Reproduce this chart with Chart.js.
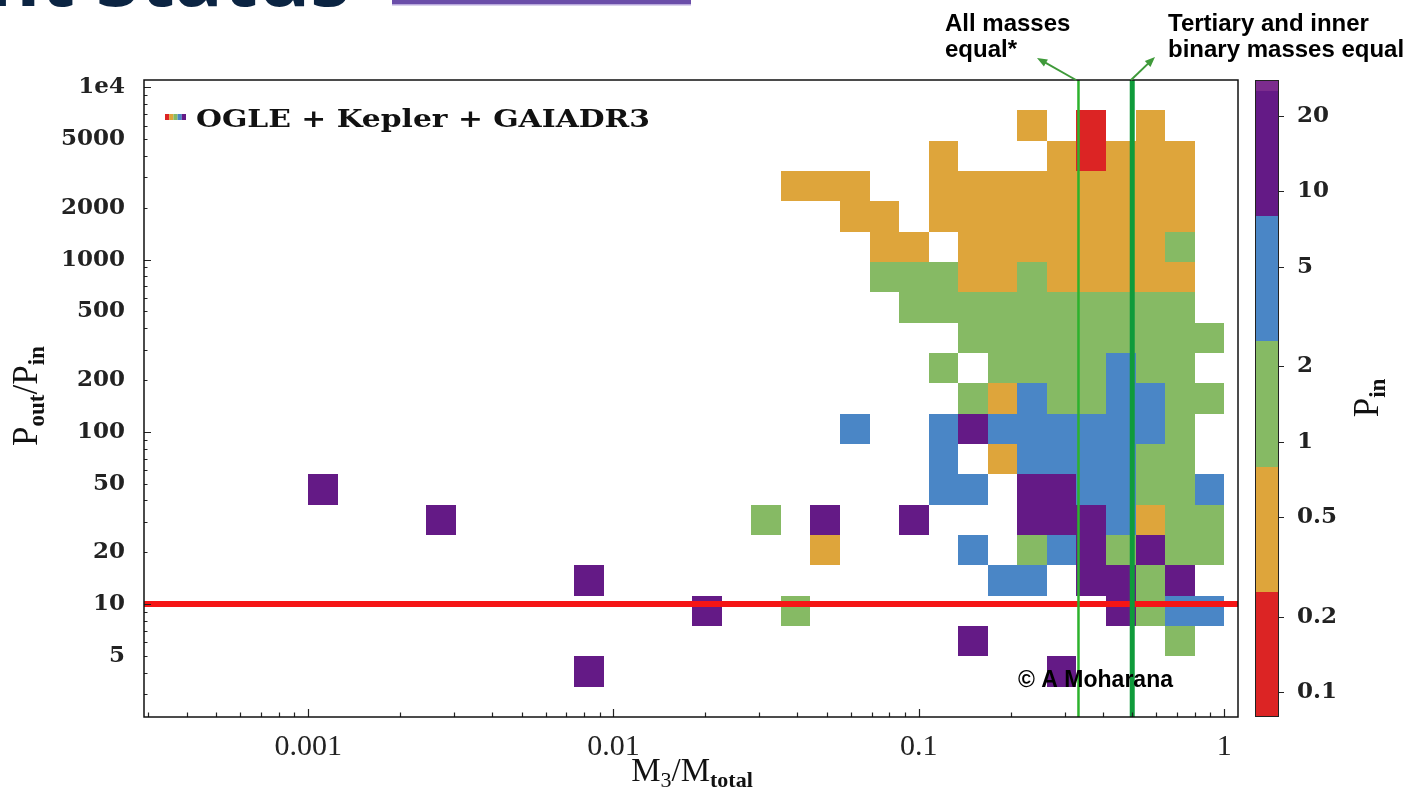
<!DOCTYPE html>
<html>
<head>
<meta charset="utf-8">
<title>Pout/Pin vs M3/Mtotal</title>
<script src="https://cdn.jsdelivr.net/npm/chart.js@4.4.1/dist/chart.umd.min.js"></script>
<style>
    html, body { margin: 0; padding: 0; background: #fff; }
    #box { position: relative; width: 1413px; height: 801px; }
</style>
</head>
<body>
<div id="box"><canvas id="myChart" width="1413" height="801"></canvas></div>
<script>
let xTicks = [0.001, 0.01, 0.1, 1];
let xTickLabels = ['0.001', '0.01', '0.1', '1'];
let yTicks = [5, 10, 20, 50, 100, 200, 500, 1000, 2000, 5000, 10000];
let yTickLabels = ['5', '10', '20', '50', '100', '200', '500', '1000', '2000', '5000', '1e4'];
let cbTicks = [0.1, 0.2, 0.5, 1, 2, 5, 10, 20];
let cbTickLabels = ['0.1', '0.2', '0.5', '1', '2', '5', '10', '20'];
let cbBounds = [0.0794, 0.251, 0.794, 2.51, 7.94, 25.1, 27.8];
let cbColors = ['#dc2424', '#dea53b', '#86ba64', '#4a86c6', '#641a86', '#7c2c8e'];

let xRange = [0.00029, 1.11];
let yRange = [2.21, 11030];
let xBinLo = 0.001, xBinHi = 1, xBinCount = 31;
let yBinLo = 2.21, yBinRatio = 1.5, yBinCount = 21;

// P_in of each cell, one letter per cell
let pinLevel = { r: 0.16, o: 0.45, g: 1.4, b: 4.5, p: 14 };
// rows from the top (Pout/Pin ~ 1e4) down, columns from M3/Mtot = 0.001 to 1
let cellRows = [
    '...............................',
    '........................o.r.o..',
    '.....................o...orooo.',
    '................ooo..ooooooooo.',
    '..................oo.ooooooooo.',
    '...................oo.ooooooog.',
    '...................gggoogooooo.',
    '....................gggggggggg.',
    '......................ggggggggg',
    '.....................g.ggggbgg.',
    '......................gobggbbgg',
    '..................b..bpbbbbbbg.',
    '.....................b.obbbbgg.',
    'p....................bb.ppbbggb',
    '....p..........g.p..p...pppbogg',
    '.................o....b.gbpgpgg',
    '.........p.............bb.ppgp.',
    '.............p..g..........pgbb',
    '......................p......g.',
    '.........p...............p.....',
    '...............................',
];

let hLines = [10];
let vLines = [1 / 3, 0.5];

let xEdges = [];
for (let i = 0; i <= xBinCount; i++) {
    xEdges.push(xBinLo * Math.pow(xBinHi / xBinLo, i / xBinCount));
}
let yEdges = [];
for (let j = 0; j <= yBinCount; j++) {
    yEdges.push(yBinLo * Math.pow(yBinRatio, j));
}

const colorFor = (v) => {
    for (let i = 0; i < cbColors.length; i++) {
        if (v >= cbBounds[i] && v < cbBounds[i + 1]) return cbColors[i];
    }
    return cbColors[cbColors.length - 1];
}

const drawRich = (ctx, parts, x, y) => {
    let w = 0;
    parts.forEach(p => { ctx.font = p[1]; w += ctx.measureText(p[0]).width; });
    let cx = x - w / 2;
    ctx.textAlign = 'left';
    ctx.textBaseline = 'alphabetic';
    parts.forEach(p => {
        ctx.font = p[1];
        ctx.fillText(p[0], cx, y + p[2]);
        cx += ctx.measureText(p[0]).width;
    });
}

const arrow = (ctx, x0, y0, x1, y1) => {
    let a = Math.atan2(y1 - y0, x1 - x0);
    ctx.beginPath();
    ctx.moveTo(x0, y0);
    ctx.lineTo(x1 - 6 * Math.cos(a), y1 - 6 * Math.sin(a));
    ctx.stroke();
    ctx.beginPath();
    ctx.moveTo(x1, y1);
    ctx.lineTo(x1 - 11 * Math.cos(a - 0.38), y1 - 11 * Math.sin(a - 0.38));
    ctx.lineTo(x1 - 11 * Math.cos(a + 0.38), y1 - 11 * Math.sin(a + 0.38));
    ctx.closePath();
    ctx.fill();
}

const heatmap = {
    id: 'heatmap',
    beforeDatasetsDraw(chart) {
        let { ctx, chartArea: a, scales: { x, y } } = chart;
        ctx.save();
        ctx.beginPath();
        ctx.rect(a.left, a.top, a.right - a.left, a.bottom - a.top);
        ctx.clip();
        for (let r = 0; r < cellRows.length; r++) {
            let row = cellRows[r];
            let j = yBinCount - 1 - r;
            for (let k = 0; k < row.length; k++) {
                let v = pinLevel[row[k]];
                if (v === undefined) continue;
                let x0 = Math.round(x.getPixelForValue(xEdges[k]));
                let x1 = Math.round(x.getPixelForValue(xEdges[k + 1]));
                let yb = Math.round(y.getPixelForValue(yEdges[j]));
                let yt = Math.round(y.getPixelForValue(yEdges[j + 1]));
                ctx.fillStyle = colorFor(v);
                ctx.fillRect(x0, yt, x1 - x0, yb - yt);
            }
        }
        ctx.restore();
    }
}

const frame = {
    id: 'frame',
    afterDatasetsDraw(chart) {
        let { ctx, chartArea: a, scales: { x, y, cb } } = chart;
        ctx.save();
        ctx.strokeStyle = '#222';
        ctx.lineWidth = 1.2;
        ctx.beginPath();
        for (let k = -4; k <= 0; k++) {
            for (let m = 1; m <= 9; m++) {
                let v = m * Math.pow(10, k);
                if (v < xRange[0] || v > xRange[1]) continue;
                let px = Math.round(x.getPixelForValue(v)) + 0.5;
                ctx.moveTo(px, a.bottom);
                ctx.lineTo(px, a.bottom - (m === 1 ? 8 : 4.5));
            }
        }
        for (let k = 0; k <= 4; k++) {
            for (let m = 1; m <= 9; m++) {
                let v = m * Math.pow(10, k);
                if (v < yRange[0] || v > yRange[1]) continue;
                let py = Math.round(y.getPixelForValue(v)) + 0.5;
                ctx.moveTo(a.left, py);
                ctx.lineTo(a.left + (m === 1 ? 7 : 3.5), py);
            }
        }
        ctx.stroke();
        ctx.lineWidth = 1.5;
        ctx.strokeStyle = '#111';
        ctx.strokeRect(a.left, a.top, a.right - a.left, a.bottom - a.top);

        // colour bar
        let cx0 = 1255, cx1 = 1279;
        for (let i = 0; i < cbColors.length; i++) {
            let yTop = Math.round(cb.getPixelForValue(cbBounds[i + 1]));
            let yBot = Math.round(cb.getPixelForValue(cbBounds[i]));
            ctx.fillStyle = cbColors[i];
            ctx.fillRect(cx0, yTop, cx1 - cx0, yBot - yTop);
        }
        ctx.lineWidth = 1;
        ctx.strokeStyle = '#222';
        ctx.strokeRect(cx0 + 0.5, cb.top + 0.5, cx1 - cx0 - 1, cb.bottom - cb.top - 1);
        ctx.beginPath();
        cbTicks.forEach(v => {
            let py = Math.round(cb.getPixelForValue(v)) + 0.5;
            ctx.moveTo(cx1, py);
            ctx.lineTo(cx1 + 5, py);
        });
        ctx.stroke();
        ctx.restore();
    },
    afterDraw(chart) {
        let ctx = chart.ctx;
        ctx.save();
        ctx.fillStyle = '#111';

        // axis titles
        drawRich(ctx, [
            ['M', '33px "Liberation Serif"', 0],
            ['3', '22px "Liberation Serif"', 6],
            ['/M', '33px "Liberation Serif"', 0],
            ['total', 'bold 22px "Liberation Serif"', 6],
        ], 692, 781);

        ctx.save();
        ctx.translate(25, 396);
        ctx.rotate(-Math.PI / 2);
        drawRich(ctx, [
            ['P', '35px "Liberation Serif"', 0],
            ['out', 'bold 23px "Liberation Serif"', 7],
            ['/P', '35px "Liberation Serif"', 0],
            ['in', 'bold 23px "Liberation Serif"', 7],
        ], 0, 12);
        ctx.restore();

        ctx.save();
        ctx.translate(1366, 398);
        ctx.rotate(-Math.PI / 2);
        drawRich(ctx, [
            ['P', '35px "Liberation Serif"', 0],
            ['in', 'bold 23px "Liberation Serif"', 7],
        ], 0, 12);
        ctx.restore();

        // legend
        let stripes = ['#dc2424', '#dea53b', '#86ba64', '#4a86c6', '#641a86'];
        stripes.forEach((c, i) => {
            ctx.fillStyle = c;
            ctx.fillRect(165 + i * 4.2, 114, 4.2, 6);
        });
        ctx.fillStyle = '#111';
        ctx.font = 'bold 25px "DejaVu Serif"';
        let legText = 'OGLE + Kepler + GAIADR3';
        let lw = ctx.measureText(legText).width;
        ctx.save();
        ctx.translate(196, 127);
        ctx.scale(454 / lw, 1);
        ctx.textAlign = 'left';
        ctx.fillText(legText, 0, 0);
        ctx.restore();

        // copyright
        ctx.font = 'bold 23px "Liberation Sans"';
        ctx.textAlign = 'left';
        ctx.fillStyle = '#000';
        ctx.fillText('\u00a9 A Moharana', 1018, 687);

        // notes on the two vertical lines
        ctx.font = 'bold 24px "Liberation Sans"';
        ctx.fillText('All masses', 945, 31);
        ctx.fillText('equal*', 945, 57);
        ctx.fillText('Tertiary and inner', 1168, 31);
        ctx.fillText('binary masses equal', 1168, 57);
        ctx.strokeStyle = '#3f9a3a';
        ctx.fillStyle = '#3f9a3a';
        ctx.lineWidth = 2;
        arrow(ctx, 1076, 80, 1037, 58);
        arrow(ctx, 1131, 80, 1155, 57);

        // slide header remains
        ctx.fillStyle = '#0b2442';
        ctx.font = 'bold 80px "Open Sans"';
        ctx.textAlign = 'right';
        ctx.fillText('Current Status', 350, 6);
        ctx.fillStyle = '#6b4ea9';
        ctx.fillRect(392, 0, 299, 4);
        ctx.fillStyle = '#b8a8dc';
        ctx.fillRect(392, 4, 299, 1.5);
        ctx.restore();
    }
}

let lineSets = [];
vLines.forEach((v, i) => {
    lineSets.push({
        label: i === 0 ? 'All masses equal' : 'Tertiary and inner binary masses equal',
        data: [{ x: v, y: yRange[0] }, { x: v, y: yRange[1] }],
        showLine: true,
        borderColor: i === 0 ? '#2db22d' : '#0f9b3b',
        borderWidth: i === 0 ? 2.5 : 5,
        pointRadius: 0,
    });
});
hLines.forEach(v => {
    lineSets.push({
        label: 'Pout/Pin = ' + v,
        data: [{ x: xRange[0], y: v }, { x: xRange[1], y: v }],
        showLine: true,
        borderColor: '#f51515',
        borderWidth: 6,
        pointRadius: 0,
    });
});

let ctx = document.getElementById('myChart').getContext('2d');
let myChart = new Chart(ctx, {
    type: 'scatter',
    data: { datasets: lineSets },
    options: {
        responsive: false,
        animation: false,
        devicePixelRatio: 1,
        layout: { padding: { top: 80, left: 0, right: 0, bottom: 0 } },
        plugins: { legend: { display: false }, tooltip: { enabled: false } },
        scales: {
            x: {
                type: 'logarithmic',
                min: xRange[0],
                max: xRange[1],
                grid: { display: false, drawTicks: false },
                border: { display: false },
                afterBuildTicks: (s) => { s.ticks = xTicks.map(v => ({ value: v })); },
                afterFit: (s) => { s.height = 84; },
                ticks: {
                    autoSkip: false,
                    maxRotation: 0,
                    padding: 12,
                    color: '#222',
                    font: { family: 'Liberation Serif', size: 30 },
                    callback: (v, i) => xTickLabels[i],
                },
            },
            y: {
                type: 'logarithmic',
                position: 'left',
                min: yRange[0],
                max: yRange[1],
                grid: { display: false, drawTicks: false },
                border: { display: false },
                afterBuildTicks: (s) => { s.ticks = yTicks.map(v => ({ value: v })); },
                afterFit: (s) => { s.width = 144; },
                ticks: {
                    autoSkip: false,
                    padding: 19,
                    color: '#222',
                    font: { family: 'DejaVu Serif', size: 23, weight: 'bold' },
                    callback: (v, i) => yTickLabels[i],
                },
            },
            cb: {
                type: 'logarithmic',
                position: 'right',
                min: cbBounds[0],
                max: cbBounds[cbBounds.length - 1],
                grid: { display: false, drawTicks: false },
                border: { display: false },
                afterBuildTicks: (s) => { s.ticks = cbTicks.map(v => ({ value: v })); },
                afterFit: (s) => { s.width = 175; },
                ticks: {
                    autoSkip: false,
                    padding: 59,
                    color: '#222',
                    font: { family: 'DejaVu Serif', size: 23, weight: 'bold' },
                    callback: (v, i) => cbTickLabels[i],
                },
            },
        },
    },
    plugins: [heatmap, frame],
});
</script>
</body>
</html>
